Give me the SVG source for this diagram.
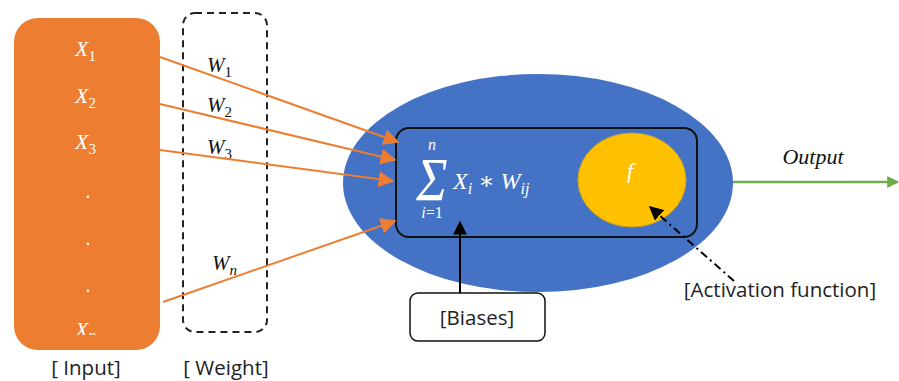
<svg xmlns="http://www.w3.org/2000/svg" width="899" height="381" viewBox="0 0 899 381">
<style>
.lbl{font-family:"Open Sans","Liberation Sans",sans-serif;font-size:20.5px;fill:#222}
.m{font-family:"Liberation Serif","DejaVu Serif",serif;font-style:italic}
.mw{fill:#fff}
.mb{fill:#111}
.orange{stroke:#ED7D31;stroke-width:2;fill:none}
</style>
<defs>
<marker id="ab" viewBox="0 0 10 10" refX="9" refY="5" markerWidth="14" markerHeight="14" orient="auto" markerUnits="userSpaceOnUse"><path d="M0,0 L10,5 L0,10 z" fill="#000"/></marker>
<marker id="ag" viewBox="0 0 10 10" refX="9" refY="5" markerWidth="12" markerHeight="12" orient="auto" markerUnits="userSpaceOnUse"><path d="M0,0 L10,5 L0,10 z" fill="#70AD47"/></marker>
<marker id="aor" viewBox="0 0 10 10" refX="9" refY="5" markerWidth="16" markerHeight="16" orient="auto" markerUnits="userSpaceOnUse"><path d="M0,0 L10,5 L0,10 z" fill="#ED7D31"/></marker>
<clipPath id="xnclip"><rect x="14" y="300" width="146" height="35"/></clipPath>
</defs>

<g id="input">
<rect x="14" y="18" width="146" height="332" rx="24" fill="#ED7D31"/>
<text class="m mw" x="75" y="56" font-size="22">X<tspan font-size="15" dy="5" font-style="normal">1</tspan></text>
<text class="m mw" x="75" y="103" font-size="22">X<tspan font-size="15" dy="5" font-style="normal">2</tspan></text>
<text class="m mw" x="75" y="149" font-size="22">X<tspan font-size="15" dy="5" font-style="normal">3</tspan></text>
<text class="m mw" x="86" y="198" font-size="20" font-style="normal">.</text>
<text class="m mw" x="86" y="245" font-size="20" font-style="normal">.</text>
<text class="m mw" x="86" y="292" font-size="20" font-style="normal">.</text>
<text class="m mw" x="75" y="337" font-size="22" clip-path="url(#xnclip)">X<tspan font-size="15" dy="3">n</tspan></text>
<text class="lbl" x="86" y="375" text-anchor="middle">[ Input]</text>
</g>

<g id="weight">
<rect x="183" y="13" width="84" height="319" rx="12" fill="none" stroke="#222" stroke-width="2" stroke-dasharray="7,5"/>
<text class="m mb" x="207" y="72" font-size="21">W<tspan font-size="15" dy="5" font-style="normal">1</tspan></text>
<text class="m mb" x="207" y="112" font-size="21">W<tspan font-size="15" dy="5" font-style="normal">2</tspan></text>
<text class="m mb" x="207" y="154" font-size="21">W<tspan font-size="15" dy="5" font-style="normal">3</tspan></text>
<text class="m mb" x="212" y="270" font-size="21">W<tspan font-size="15" dy="5">n</tspan></text>
<text class="lbl" x="226" y="375" text-anchor="middle">[ Weight]</text>
</g>

<g id="neuron">
<ellipse cx="538" cy="183" rx="195" ry="109" fill="#4472C4"/>
<rect x="396" y="128" width="301" height="109" rx="13" fill="none" stroke="#111" stroke-width="2"/>
<text class="m mw" x="432" y="200" font-size="62" font-style="normal" text-anchor="middle" transform="translate(432 200) scale(0.85 1) translate(-432 -200)">Σ</text>
<text class="m mw" x="432" y="150" font-size="16" text-anchor="middle">n</text>
<text class="m mw" x="432" y="218" font-size="16" text-anchor="middle">i<tspan font-style="normal">=1</tspan></text>
<text class="m mw" x="453" y="189" font-size="24">X<tspan font-size="16" dy="5">i</tspan><tspan dy="-5" font-style="normal"> ∗ </tspan>W<tspan font-size="16" dy="5">ij</tspan></text>
</g>

<g id="activation">
<ellipse cx="632" cy="180" rx="54" ry="47" fill="#FFC000" stroke="#C9A227" stroke-width="1"/>
<text class="m mw" x="630" y="178" font-size="22" text-anchor="middle">f</text>
</g>

<g id="biases">
<rect x="410" y="293" width="135" height="48" rx="8" fill="#fff" stroke="#111" stroke-width="1.5"/>
<text class="lbl" x="477" y="325" text-anchor="middle">[Biases]</text>
</g>

<g id="labels">
<text class="m mb" x="813" y="164" font-size="22" text-anchor="middle">Output</text>
<text class="lbl" x="780" y="297" text-anchor="middle">[Activation function]</text>
</g>

<g id="connectors">
<line x1="160" y1="57" x2="398" y2="142" class="orange" marker-end="url(#aor)"/>
<line x1="160" y1="104" x2="395" y2="160" class="orange" marker-end="url(#aor)"/>
<line x1="160" y1="150" x2="393" y2="181" class="orange" marker-end="url(#aor)"/>
<line x1="163" y1="302" x2="395" y2="221" class="orange" marker-end="url(#aor)"/>
<line x1="733" y1="182" x2="898" y2="182" stroke="#70AD47" stroke-width="2.5" marker-end="url(#ag)"/>
<line x1="460" y1="293" x2="460" y2="222" stroke="#000" stroke-width="2" marker-end="url(#ab)"/>
<line x1="734" y1="281" x2="650" y2="207" stroke="#000" stroke-width="2" stroke-dasharray="8,4,2,4" marker-end="url(#ab)"/>
</g>
</svg>
